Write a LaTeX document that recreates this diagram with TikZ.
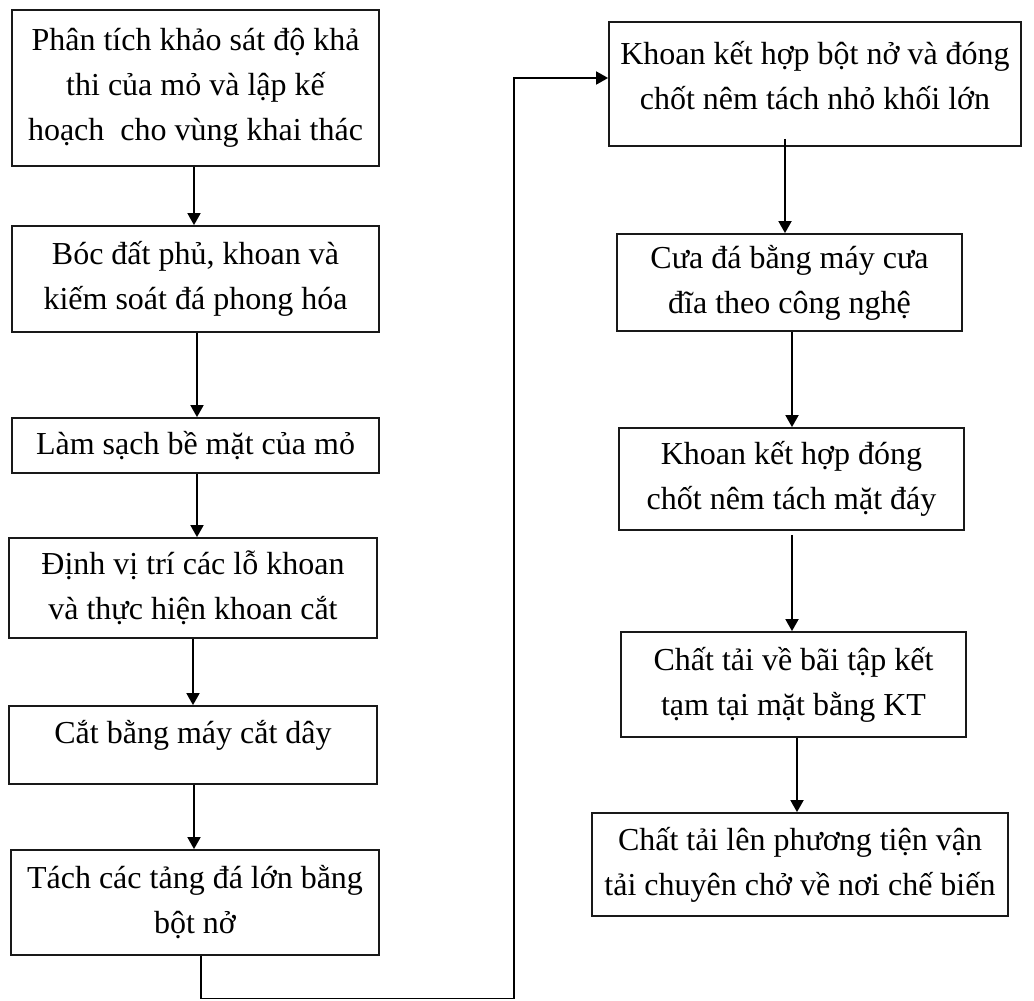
\documentclass[tikz,border=0pt]{standalone}
\usepackage{fontspec}
\setmainfont{Liberation Serif}
\usetikzlibrary{arrows.meta,calc}
\begin{document}
\begin{tikzpicture}[x=1pt,y=-1pt,
  box/.style={draw=black!90, line width=1.8pt, align=center, inner sep=0pt, font=\fontsize{32}{45}\selectfont},
  txt/.style={align=center, inner sep=0pt, font=\fontsize{32}{45}\selectfont},
  arr/.style={line width=1.8pt, -{Triangle[length=12pt,width=13pt]}}]
\useasboundingbox (0,0) rectangle (1034,1001);
% left column
\node[box, minimum width=367pt, minimum height=156pt] (b1) at (195.5,88)
  {Phân tích khảo sát độ khả\\thi của mỏ và lập kế\\hoạch\ \ cho vùng khai thác};
\node[box, minimum width=367pt, minimum height=106pt] (b2) at (195.5,279)
  {Bóc đất phủ, khoan và\\kiếm soát đá phong hóa};
\node[box, minimum width=367pt, minimum height=55pt] (b3) at (195.5,445.5)
  {Làm sạch bề mặt của mỏ};
\node[box, minimum width=368pt, minimum height=100pt] (b4) at (193,588)
  {Định vị trí các lỗ khoan\\và thực hiện khoan cắt};
\node[box, minimum width=368pt, minimum height=78pt] (b5) at (193,745) {};
\node[txt] (t5) at (193,735) {Cắt bằng máy cắt dây};
\node[box, minimum width=368pt, minimum height=105pt] (b6) at (195,902.5)
  {Tách các tảng đá lớn bằng\\bột nở};
% right column
\node[box, minimum width=412pt, minimum height=124pt] (b7) at (815,84) {};
\node[txt] (t7) at (815,75.5) {Khoan kết hợp bột nở và đóng\\chốt nêm tách nhỏ khối lớn};
\node[box, minimum width=345pt, minimum height=97pt] (b8) at (789.5,282.5)
  {Cưa đá bằng máy cưa\\đĩa theo công nghệ};
\node[box, minimum width=345pt, minimum height=102pt] (b9) at (791.5,479)
  {Khoan kết hợp đóng\\chốt nêm tách mặt đáy};
\node[box, minimum width=345pt, minimum height=105pt] (b10) at (793.5,684.5)
  {Chất tải về bãi tập kết\\tạm tại mặt bằng KT};
\node[box, minimum width=416pt, minimum height=103pt] (b11) at (800,864.5)
  {Chất tải lên phương tiện vận\\tải chuyên chở về nơi chế biến};
% connectors
\coordinate (c1) at (514,998.5);
\draw[arr] ([xshift=-1.5pt]b1.south) -- ([xshift=-1.5pt]b1.south |- b2.north);
\draw[arr] ([xshift=1.5pt]b2.south) -- ([xshift=1.5pt]b2.south |- b3.north);
\draw[arr] ([xshift=1.5pt]b3.south) -- ([xshift=1.5pt]b3.south |- b4.north);
\draw[arr] (b4.south) -- (b4.south |- b5.north);
\draw[arr] ([xshift=1pt]b5.south) -- ([xshift=1pt]b5.south |- b6.north);
\draw[arr] ([xshift=6pt]b6.south) |- (c1) |- ([yshift=6pt]b7.west);
\draw[arr] ([xshift=-30pt,yshift=8pt]b7.south) -- ([xshift=-30pt]b7.south |- b8.north);
\draw[arr] ([xshift=2.5pt]b8.south) -- ([xshift=2.5pt]b8.south |- b9.north);
\draw[arr] ([xshift=0.5pt,yshift=-4pt]b9.south) -- ([xshift=0.5pt]b9.south |- b10.north);
\draw[arr] ([xshift=3.5pt]b10.south) -- ([xshift=3.5pt]b10.south |- b11.north);
\end{tikzpicture}
\end{document}
